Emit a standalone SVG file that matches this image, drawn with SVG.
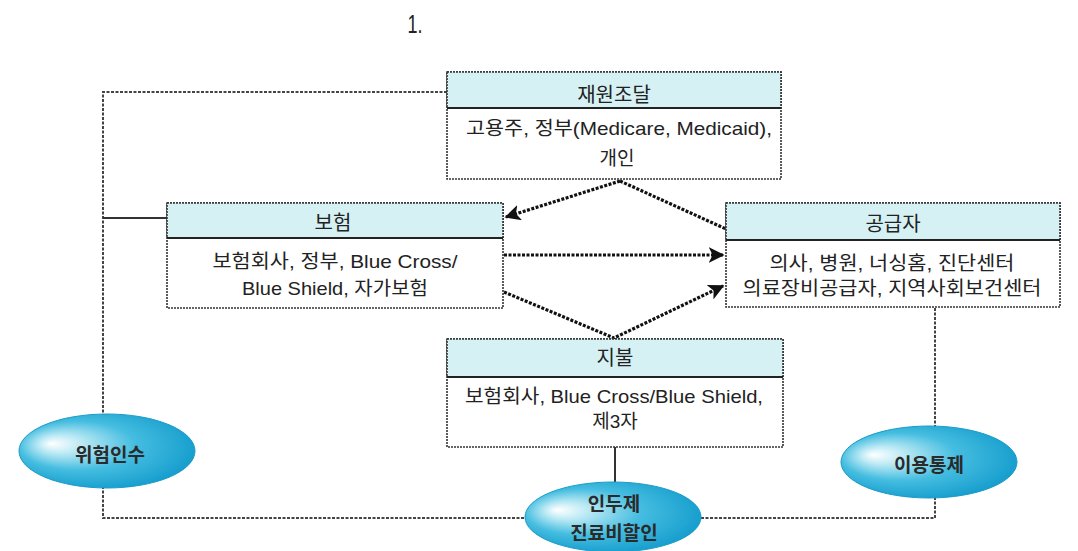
<svg xmlns="http://www.w3.org/2000/svg" width="1078" height="551" viewBox="0 0 1078 551">
<defs>
<style>
.txt{font-family:"Liberation Sans","Noto Sans CJK KR",sans-serif;fill:#222;text-anchor:middle}
.body{font-size:19px}
.head{font-size:20px}
.ell{font-size:19px;font-weight:bold;fill:#2a2a2a}
.box{fill:#fff;stroke:#333;stroke-width:1.6;stroke-dasharray:2 1}
.hdr{fill:#d5f1f4;stroke:#333;stroke-width:1.6;stroke-dasharray:2 1}
.sep{stroke:#222;stroke-width:2}
.loop{fill:none;stroke:#444;stroke-width:2;stroke-dasharray:3 1.5}
.solid{fill:none;stroke:#333;stroke-width:2}
.flow{fill:none;stroke:#111;stroke-width:3.2;stroke-dasharray:3 1.5}
.blob{fill:url(#eg);stroke:#1a9cc6;stroke-width:1}
</style>
<radialGradient id="eg" cx="0.45" cy="0.45" r="0.6" fx="0.18" fy="0.4">
<stop offset="0" stop-color="#ffffff"/>
<stop offset="0.2" stop-color="#bdeaf5"/>
<stop offset="0.55" stop-color="#45bde0"/>
<stop offset="1" stop-color="#129bcc"/>
</radialGradient>
<marker id="ah" viewBox="0 0 10 10" refX="9" refY="5" markerWidth="5" markerHeight="5" orient="auto" markerUnits="strokeWidth">
<path d="M0,0 L10,5 L0,10 L2.5,5 Z" fill="#111"/>
</marker>
</defs>

<text class="txt" x="415" y="33" style="font-size:26px" textLength="15" lengthAdjust="spacingAndGlyphs">1.</text>

<g id="connectors">
<path class="loop" d="M447,92 H103 V518 H935 V307"/>
<path class="solid" d="M103,218 H167"/>
<path class="solid" d="M615,447 V482"/>
<path class="flow" d="M620,181 L506,217" marker-end="url(#ah)"/>
<path class="flow" d="M620,181 L726,229"/>
<path class="flow" d="M504,255 L723,255" marker-end="url(#ah)"/>
<path class="flow" d="M504,292 L614,338 L723,286" marker-end="url(#ah)"/>
</g>

<g id="node-funding">
<rect class="box" x="447" y="72" width="334" height="107"/>
<rect class="hdr" x="447" y="72" width="334" height="36"/>
<line class="sep" x1="447" y1="108" x2="781" y2="108"/>
<text class="txt head" x="614" y="102">재원조달</text>
<text class="txt body" x="619" y="135" textLength="306" lengthAdjust="spacingAndGlyphs">고용주, 정부(Medicare, Medicaid),</text>
<text class="txt body" x="617" y="165">개인</text>
</g>

<g id="node-insurance">
<rect class="box" x="167" y="203" width="336" height="105"/>
<rect class="hdr" x="167" y="203" width="336" height="35"/>
<line class="sep" x1="167" y1="238" x2="503" y2="238"/>
<text class="txt head" x="333" y="230">보험</text>
<text class="txt body" x="335" y="268" textLength="245" lengthAdjust="spacingAndGlyphs">보험회사, 정부, Blue Cross/</text>
<text class="txt body" x="335" y="295" textLength="186" lengthAdjust="spacingAndGlyphs">Blue Shield, 자가보험</text>
</g>

<g id="node-provider">
<rect class="box" x="726" y="203" width="334" height="104"/>
<rect class="hdr" x="726" y="203" width="334" height="37"/>
<line class="sep" x1="726" y1="240" x2="1060" y2="240"/>
<text class="txt head" x="893" y="231">공급자</text>
<text class="txt body" x="892" y="270" textLength="245" lengthAdjust="spacingAndGlyphs">의사, 병원, 너싱홈, 진단센터</text>
<text class="txt body" x="892" y="295" textLength="299" lengthAdjust="spacingAndGlyphs">의료장비공급자, 지역사회보건센터</text>
</g>

<g id="node-payment">
<rect class="box" x="447" y="339" width="336" height="108"/>
<rect class="hdr" x="447" y="339" width="336" height="38"/>
<line class="sep" x1="447" y1="377" x2="783" y2="377"/>
<text class="txt head" x="615" y="365">지불</text>
<text class="txt body" x="614" y="403" textLength="298" lengthAdjust="spacingAndGlyphs">보험회사, Blue Cross/Blue Shield,</text>
<text class="txt body" x="615" y="428">제3자</text>
</g>

<g id="node-risk">
<ellipse class="blob" cx="107" cy="451" rx="88" ry="37"/>
<text class="txt ell" x="110" y="462">위험인수</text>
</g>

<g id="node-utilization">
<ellipse class="blob" cx="929" cy="462" rx="88" ry="36"/>
<text class="txt ell" x="929" y="472">이용통제</text>
</g>

<g id="node-capitation">
<ellipse class="blob" cx="613" cy="517" rx="88" ry="35"/>
<text class="txt ell" x="614" y="511">인두제</text>
<text class="txt ell" x="614" y="540">진료비할인</text>
</g>
</svg>
